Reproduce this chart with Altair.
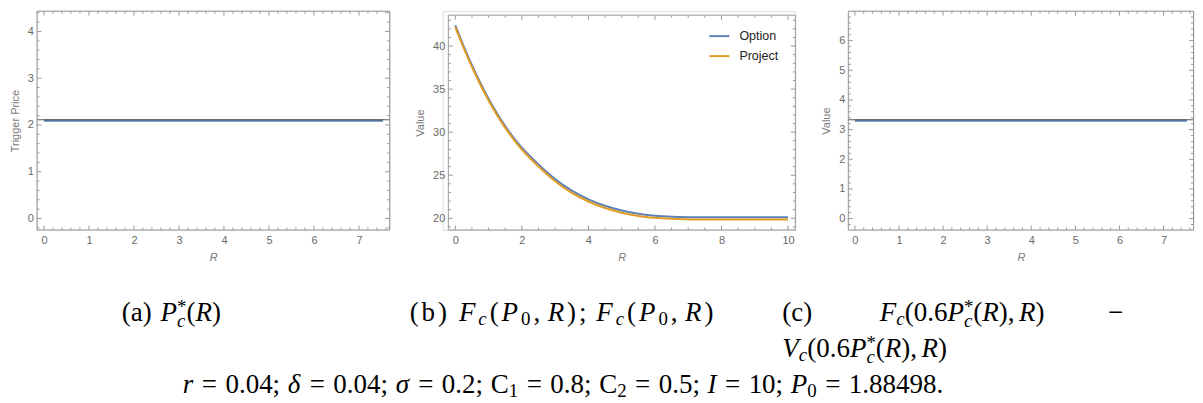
import altair as alt
import pandas as pd

# ---------------- data ----------------
R_a = [0.0, 7.53]
trigger_a = [2.094, 2.094]

R_b = [0, 0.25, 0.5, 0.75, 1.0, 1.25, 1.5, 1.75, 2.0, 2.5, 3.0, 3.5, 4.0, 4.5, 5.0, 5.5, 6.0, 6.5, 7.0, 8.0, 9.0, 10.0]
option_b = [42.4, 40.0, 37.78, 35.74, 33.88, 32.2, 30.7, 29.38, 28.2, 26.25, 24.55, 23.2, 22.2, 21.45, 20.9, 20.52, 20.3, 20.18, 20.13, 20.12, 20.12, 20.12]
project_b = [42.2, 39.8, 37.58, 35.54, 33.68, 32.0, 30.5, 29.17, 27.98, 26.02, 24.31, 22.95, 21.95, 21.2, 20.65, 20.27, 20.05, 19.93, 19.87, 19.86, 19.86, 19.86]
series_b = ["Option", "Project"]

R_c = [0.0, 7.53]
diff_c = [3.305, 3.305]

xmaj_a = [0, 1, 2, 3, 4, 5, 6, 7]
ymaj_a = [0, 1, 2, 3, 4]
xmaj_b = [0, 2, 4, 6, 8, 10]
ymaj_b = [20, 25, 30, 35, 40]
xmaj_c = [0, 1, 2, 3, 4, 5, 6, 7]
ymaj_c = [0, 1, 2, 3, 4, 5, 6]

# ---------------- styling ----------------
SANS = "Liberation Sans"
SERIF = "Liberation Serif"
FRAME = "#999999"
LBL = "#6a6a6a"
TTL = "#7a7a7a"
BLUE = "#5E81B5"
ORANGE = "#E19C24"
H = 219
W_A, W_B, W_C = 353, 353, 345.5
MAJ, MIN = 4.5, 2.5


def minor(lo, hi, step, majors):
    out = []
    k = int(round(lo / step)) - 1
    while k * step <= hi + 1e-9:
        v = round(k * step, 4)
        if lo - 1e-9 <= v <= hi + 1e-9 and all(abs(v - m) > 1e-6 for m in majors):
            out.append(v)
        k += 1
    return out


one = pd.DataFrame({"k": [0]})


def frame_and_ticks(W, xs, ys, xax, yax, xdom, ydom, xmaj, xstep, ymaj, ystep, x0, y0):
    layers = []
    fr = alt.Chart(one).mark_rule(color=FRAME, strokeWidth=1)
    layers += [
        fr.encode(x=alt.value(x0), x2=alt.value(W), y=alt.value(y0)),
        fr.encode(x=alt.value(x0), x2=alt.value(W), y=alt.value(H)),
        fr.encode(x=alt.value(x0), y=alt.value(y0), y2=alt.value(H)),
        fr.encode(x=alt.value(W), y=alt.value(y0), y2=alt.value(H)),
    ]
    xmin = minor(xdom[0], xdom[1], xstep, xmaj)
    ymin = minor(ydom[0], ydom[1], ystep, ymaj)
    xm = [v for v in xmaj if xdom[0] <= v <= xdom[1]]
    ym = [v for v in ymaj if ydom[0] <= v <= ydom[1]]
    for vals, ln in ((xm, MAJ), (xmin, MIN)):
        b = alt.Chart(pd.DataFrame({"R": vals})).mark_rule(color=FRAME, strokeWidth=1)
        xe = alt.X("R:Q", scale=xs, axis=xax)
        layers.append(b.encode(x=xe, y=alt.value(H), y2=alt.value(H - ln)))
        layers.append(b.encode(x=xe, y=alt.value(y0), y2=alt.value(y0 + ln)))
    for vals, ln in ((ym, MAJ), (ymin, MIN)):
        b = alt.Chart(pd.DataFrame({"v": vals})).mark_rule(color=FRAME, strokeWidth=1)
        ye = alt.Y("v:Q", scale=ys, axis=yax)
        layers.append(b.encode(y=ye, x=alt.value(x0), x2=alt.value(x0 + ln)))
        layers.append(b.encode(y=ye, x=alt.value(W), x2=alt.value(W - ln)))
    return layers


def xaxis(values):
    return alt.Axis(values=values, title="R", format="d", ticks=False, tickSize=0, domain=False,
                    grid=False, labelPadding=5, titlePadding=6, labelFont=SANS, labelFontSize=11,
                    labelColor=LBL, labelFlush=False, titleFont=SANS, titleFontSize=11,
                    titleFontStyle="italic", titleFontWeight="normal", titleColor=TTL)


def yaxis(values, title, offset=0):
    return alt.Axis(values=values, title=title, format="d", ticks=False, tickSize=0, domain=False,
                    grid=False, labelPadding=3.5, titlePadding=7, labelFont=SANS, labelFontSize=11,
                    labelColor=LBL, titleFont=SANS, titleFontSize=11, titleFontWeight="normal",
                    titleColor=TTL, offset=offset)


# ---------------- captions (math typeset as runs) ----------------
W_RM = {' ': 0.25, '(': 0.333, ')': 0.333, 'a': 0.444, 'b': 0.5, 'c': 0.444, '.': 0.25, ',': 0.25,
        ';': 0.278, '=': 0.564, 'C': 0.667, '\u2212': 0.564, '*': 0.5}
for d in "0123456789":
    W_RM[d] = 0.5
W_IT = {'P': 0.611, 'R': 0.611, 'F': 0.611, 'V': 0.611, 'I': 0.333, 'r': 0.389, 'c': 0.444,
        'δ': 0.5, 'σ': 0.52}
FS = 27.0


def wid(t, table):
    return sum(table.get(ch, 0.5) for ch in t)


def typeset(tokens, fs=FS, track=0.0, spx=0.0):
    """track: extra px after every glyph run; spx: extra px added to every explicit space."""
    out, x = [], 0.0
    for kind, t in tokens:
        if kind == "sp":
            x += t * fs + spx
            continue
        if kind == "rm":
            out.append((t, x, 0.0, fs, False)); x += wid(t, W_RM) * fs
        elif kind == "it":
            out.append((t, x, 0.0, fs, True)); x += wid(t, W_IT) * fs
        elif kind == "subrm":
            out.append((t, x, 0.16 * fs, 0.7 * fs, False)); x += wid(t, W_RM) * 0.7 * fs
        elif kind == "subit":
            out.append((t, x, 0.16 * fs, 0.7 * fs, True)); x += wid(t, W_IT) * 0.7 * fs
        elif kind == "cs":
            out.append(("c", x, 0.22 * fs, 0.7 * fs, True))
            out.append(("*", x, -0.30 * fs, 0.7 * fs, False))
            x += 0.5 * 0.7 * fs
        x += track
    return out, x - track


def explode(tokens):
    """split multi-character runs so that tracking applies between glyphs"""
    res = []
    for kind, t in tokens:
        if kind in ("rm", "it") and len(t) > 1:
            res += [(kind, ch) for ch in t]
        else:
            res.append((kind, t))
    return res


EQ = [("sp", 0.278), ("rm", "="), ("sp", 0.278)]
PCS = [("it", "P"), ("cs", "")]
FC_P0R = [("it", "F"), ("subit", "c"), ("rm", "("), ("it", "P"), ("subrm", "0"), ("rm", ","),
          ("sp", 0.167), ("it", "R"), ("rm", ")")]
ARG06 = [("rm", "("), ("rm", "0.6")] + PCS + [("rm", "("), ("it", "R"), ("rm", ")"), ("rm", ","),
                                               ("sp", 0.167), ("it", "R"), ("rm", ")")]
LINE3 = ([("it", "r")] + EQ + [("rm", "0.04;"), ("sp", 0.25), ("it", "δ")] + EQ +
         [("rm", "0.04;"), ("sp", 0.25), ("it", "σ")] + EQ + [("rm", "0.2;"), ("sp", 0.25), ("rm", "C"),
         ("subrm", "1")] + EQ + [("rm", "0.8;"), ("sp", 0.25), ("rm", "C"), ("subrm", "2")] + EQ +
         [("rm", "0.5;"), ("sp", 0.25), ("it", "I")] + EQ + [("rm", "10;"), ("sp", 0.25), ("it", "P"),
         ("subrm", "0")] + EQ + [("rm", "1.88498.")])
CAP_B = explode([("rm", "(b)"), ("sp", 0.33)] + FC_P0R + [("rm", ";"), ("sp", 0.25)] + FC_P0R)


def fit(tokens, left, right, mode):
    _, nat = typeset(tokens)
    extra = (right - left) - nat
    if mode == "track":
        n = sum(1 for k, _ in tokens if k != "sp") - 1
        return typeset(tokens, track=extra / n)
    n = sum(1 for k, _ in tokens if k == "sp")
    return typeset(tokens, spx=extra / n)


# (pieces, left x, baseline) in page pixels
placed = []
p, w = typeset([("rm", "(a)"), ("sp", 0.33)] + PCS + [("rm", "("), ("it", "R"), ("rm", ")")])
placed.append((p, 170.5 - w / 2, 320))
p, w = fit(CAP_B, 409, 713, "track")
placed.append((p, 409, 320))
p, w = typeset([("rm", "(c)")])
placed.append((p, 782, 320))
p, w = typeset([("it", "F"), ("subit", "c")] + ARG06)
placed.append((p, 962 - w / 2, 320))
p, w = typeset([("rm", "\u2212")])
placed.append((p, 1108, 320))
p, w = typeset([("it", "V"), ("subit", "c")] + ARG06)
placed.append((p, 782, 356))
p, w = fit(LINE3, 182, 943, "space")
placed.append((p, 182, 392))

OX, OY = 36, 10   # page position of panel (a) plot origin
rows_rm, rows_it = [], []
for pieces, start, by in placed:
    for t, dx, dy, s, it in pieces:
        row = {"t": t, "x": start + dx - OX, "y": by + dy - OY, "s": s}
        (rows_it if it else rows_rm).append(row)


def cap_layer(rows, style):
    return alt.Chart(pd.DataFrame(rows)).mark_text(
        font=SERIF, fontStyle=style, align="left", baseline="alphabetic", color="black"
    ).encode(x=alt.X("x:Q", scale=None), y=alt.Y("y:Q", scale=None),
             size=alt.Size("s:Q", scale=None), text="t:N")


def flat_panel_lines(R, vals, xs, ys, xax, yax, W):
    df = pd.DataFrame({"R": R, "v": vals})
    line = alt.Chart(df).mark_line(color=BLUE, strokeWidth=2.2).encode(
        x=alt.X("R:Q", scale=xs, axis=xax), y=alt.Y("v:Q", scale=ys, axis=yax))
    axl = alt.Chart(pd.DataFrame({"v": vals[:1]})).mark_rule(
        color="#3a3a3a", strokeWidth=1, opacity=0.85, yOffset=-0.8
    ).encode(y=alt.Y("v:Q", scale=ys, axis=yax), x=alt.value(0), x2=alt.value(W))
    return [line, axl]


# ---------------- panel (a) ----------------
xd_a, yd_a = [-0.155, 7.683], [-0.246, 4.434]
xs_a = alt.Scale(domain=xd_a, nice=False, zero=False)
ys_a = alt.Scale(domain=yd_a, nice=False, zero=False)
xax_a, yax_a = xaxis(xmaj_a), yaxis(ymaj_a, "Trigger Price")
panel_a = alt.layer(
    *flat_panel_lines(R_a, trigger_a, xs_a, ys_a, xax_a, yax_a, W_A),
    *frame_and_ticks(W_A, xs_a, ys_a, xax_a, yax_a, xd_a, yd_a, xmaj_a, 0.2, ymaj_a, 0.2, 0, 0),
    cap_layer(rows_rm, "normal"), cap_layer(rows_it, "italic")
).properties(width=W_A, height=H)

# ---------------- panel (b) ----------------
XB0, YB0 = 5.7, 4
xd_b, yd_b = [-0.21, 10.22], [18.64, 43.59]
xs_b = alt.Scale(domain=xd_b, nice=False, zero=False, range=[XB0, W_B])
ys_b = alt.Scale(domain=yd_b, nice=False, zero=False, range=[H, YB0])
xax_b, yax_b = xaxis(xmaj_b), yaxis(ymaj_b, "Value", offset=-XB0)
df_b = pd.DataFrame({
    "R": R_b + R_b,
    "v": option_b + project_b,
    "series": [series_b[0]] * len(R_b) + [series_b[1]] * len(R_b),
})
line_b = alt.Chart(df_b).mark_line(strokeWidth=2, interpolate="monotone").encode(
    x=alt.X("R:Q", scale=xs_b, axis=xax_b),
    y=alt.Y("v:Q", scale=ys_b, axis=yax_b),
    color=alt.Color("series:N", scale=alt.Scale(domain=series_b, range=[BLUE, ORANGE]),
                    legend=alt.Legend(title=None, orient="none", legendX=266, legendY=14,
                                      symbolType="stroke", symbolSize=400, symbolStrokeWidth=2,
                                      labelFont=SANS, labelFontSize=12.5, labelColor="#222222",
                                      labelOffset=9, rowPadding=2, padding=0)),
    detail="series:N")
panel_b = alt.layer(
    line_b,
    *frame_and_ticks(W_B, xs_b, ys_b, xax_b, yax_b, xd_b, yd_b, xmaj_b, 0.5, ymaj_b, 1.0, XB0, YB0)
).properties(width=W_B, height=H)

# ---------------- panel (c) ----------------
xd_c, yd_c = [-0.15, 7.68], [-0.385, 6.995]
xs_c = alt.Scale(domain=xd_c, nice=False, zero=False)
ys_c = alt.Scale(domain=yd_c, nice=False, zero=False)
xax_c, yax_c = xaxis(xmaj_c), yaxis(ymaj_c, "Value")
panel_c = alt.layer(
    *flat_panel_lines(R_c, diff_c, xs_c, ys_c, xax_c, yax_c, W_C),
    *frame_and_ticks(W_C, xs_c, ys_c, xax_c, yax_c, xd_c, yd_c, xmaj_c, 0.2, ymaj_c, 0.2, 0, 0)
).properties(width=W_C, height=H)

chart = alt.hconcat(panel_a, panel_b, panel_c, spacing=53, bounds="flush").resolve_scale(
    color="independent"
).properties(
    padding={"left": 0, "top": 2, "right": 0, "bottom": 0}
).configure_view(strokeWidth=0).configure(background="white")

chart.save("out.html", embed_options={"renderer": "svg", "actions": False})
